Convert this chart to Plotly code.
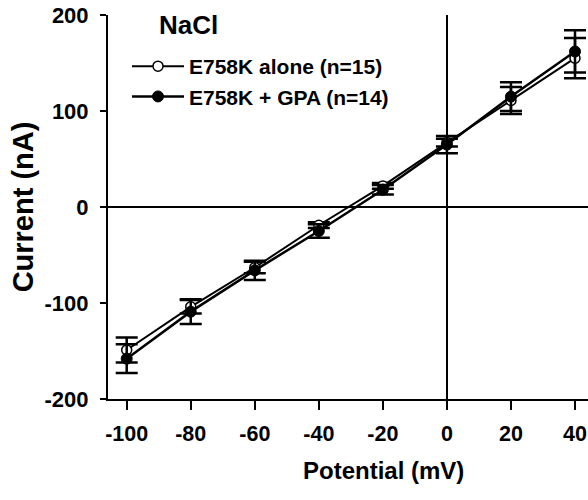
import plotly.graph_objects as go

# Data
potential_mv = [-100, -80, -60, -40, -20, 0, 20, 40]
alone_current = [-149, -104, -63, -19, 22, 67, 111, 155]
alone_err = [13, 7, 6, 3, 3, 4, 14, 21]
gpa_current = [-158, -109, -66, -25, 18, 65, 115, 162]
gpa_err = [15, 13, 10, 7, 5, 9, 15, 22]

x_tickvals = [-100, -80, -60, -40, -20, 0, 20, 40]
x_ticktext = ["-100", "-80", "-60", "-40", "-20", "0", "20", "40"]
y_tickvals = [-200, -100, 0, 100, 200]
y_ticktext = ["-200", "-100", "0", "100", "200"]

series_names = ["E758K alone (n=15)", "E758K + GPA (n=14)"]

FONT = "Liberation Sans, Arial, sans-serif"

fig = go.Figure()
fig.add_trace(go.Scatter(
    x=potential_mv, y=alone_current, name=series_names[0], mode="lines+markers",
    line=dict(color="black", width=2),
    marker=dict(symbol="circle", size=10, color="white", line=dict(color="black", width=1.5)),
    error_y=dict(type="data", array=alone_err, visible=True, color="black", thickness=2.5, width=11),
))
fig.add_trace(go.Scatter(
    x=potential_mv, y=gpa_current, name=series_names[1], mode="lines+markers",
    line=dict(color="black", width=2.5),
    marker=dict(symbol="circle", size=11, color="black", line=dict(color="black", width=1)),
    error_y=dict(type="data", array=gpa_err, visible=True, color="black", thickness=2.5, width=11),
))

W, H = 588, 500
L, R, T = 108, 0, 15
B = H - 399.3
ph = H - T - B
pw = W - L - R

def px_x(px):
    return (px - L) / pw

def px_y(py):
    return (H - B - py) / ph

fig.update_layout(
    width=W, height=H,
    margin=dict(l=L, r=R, t=T, b=B, pad=0, autoexpand=False),
    paper_bgcolor="white", plot_bgcolor="white",
    font=dict(family=FONT, color="black", size=22, weight="bold"),
    showlegend=True,
    legend=dict(
        x=px_x(127), y=px_y(46), xanchor="left", yanchor="top",
        font=dict(family=FONT, size=21, color="black", weight="bold"),
        bgcolor="rgba(0,0,0,0)", borderwidth=0, itemwidth=52,
        tracegroupgap=0,
    ),
    xaxis=dict(
        range=[-105.84, 44.06], tickmode="array", tickvals=x_tickvals, ticktext=x_ticktext,
        automargin=False, ticklabeloverflow="allow",
        showgrid=False, zeroline=True, zerolinecolor="black", zerolinewidth=1.5,
        showline=True, linecolor="black", linewidth=2,
        ticks="outside", ticklen=9, tickwidth=2, tickcolor="black",
        ticklabelstandoff=5,
        tickfont=dict(family=FONT, size=21.5, color="black", weight="bold"),
    ),
    yaxis=dict(
        range=[-200, 200], tickmode="array", tickvals=y_tickvals, ticktext=y_ticktext,
        automargin=False, ticklabeloverflow="allow",
        showgrid=False, zeroline=True, zerolinecolor="black", zerolinewidth=1.5,
        showline=True, linecolor="black", linewidth=2,
        ticks="outside", ticklen=6, tickwidth=2, tickcolor="black",
        ticklabelstandoff=7,
        tickfont=dict(family=FONT, size=22, color="black", weight="bold"),
        title=dict(text="Current (nA)", font=dict(family=FONT, size=29, color="black", weight="bold"), standoff=2),
    ),
    annotations=[
        dict(text="NaCl", xref="paper", yref="paper", x=px_x(157), y=px_y(25.5),
             xanchor="left", yanchor="middle", showarrow=False,
             font=dict(family=FONT, size=26, color="black", weight="bold")),
        dict(text="Potential (mV)", xref="paper", yref="paper", x=px_x(383.5), y=px_y(471),
             xanchor="center", yanchor="middle", showarrow=False,
             font=dict(family=FONT, size=24, color="black", weight="bold")),
    ],
)

# remove the default 8px page margin so the 588x500 figure fills the window exactly
fig.write_html("out.html", config={"displayModeBar": False},
               post_script="document.body.style.margin='0';")
